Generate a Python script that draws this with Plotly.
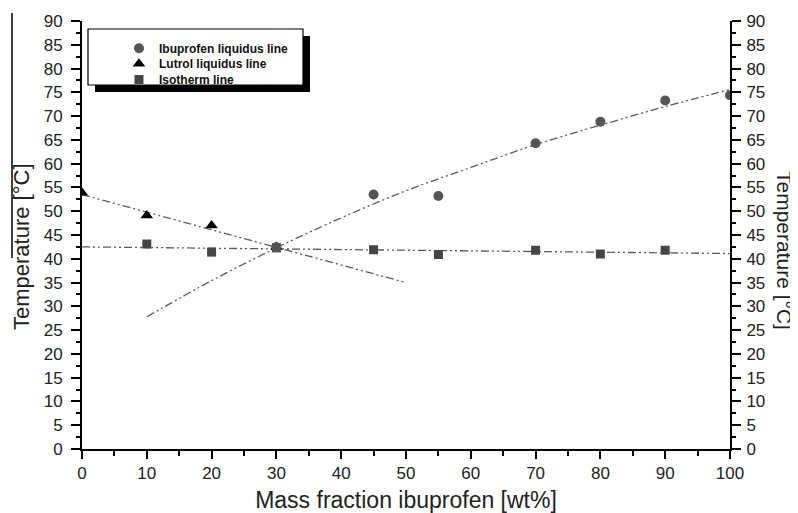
import plotly.graph_objects as go

# ---------------- data ----------------
ibu_x = [30, 45, 55, 70, 80, 90, 100]
ibu_y = [42.4, 53.5, 53.2, 64.3, 68.8, 73.3, 74.4]

lutrol_x = [0, 10, 20, 30]
lutrol_y = [53.9, 49.1, 47.0, 42.5]

iso_x = [10, 20, 30, 45, 55, 70, 80, 90]
iso_y = [43.1, 41.4, 42.3, 41.9, 40.9, 41.8, 41.0, 41.8]

# fitted trend lines
ibu_fit_x = [10, 20, 30, 40, 50, 60, 70, 80, 90, 100]
ibu_fit_y = [27.8, 35.4, 42.3, 48.6, 54.3, 59.2, 64.0, 68.1, 72.0, 75.6]
lutrol_fit_x = [0, 50]
lutrol_fit_y = [53.5, 35.0]
iso_fit_x = [0, 100]
iso_fit_y = [42.5, 41.1]

names = ["Ibuprofen liquidus line", "Lutrol liquidus line", "Isotherm line"]
x_title = "Mass fraction ibuprofen [wt%]"
y_title = "Temperature [°C]"

# ---------------- layout geometry (window pixels) ----------------
WIN_W, WIN_H = 798, 513
OFF = 8                      # page body margin
FW, FH = WIN_W - OFF, WIN_H - OFF
PL, PR, PT, PB = 82, 730, 21, 449   # plot area in window pixels


def px_x(px):
    return (px - PL) / (PR - PL)


def px_y(py):
    return (PB - py) / (PB - PT)


FONT = "Arial, Liberation Sans, sans-serif"
DASH = "8px,3px,2px,3px,2px,3px"
LINE_COL = "#5a5a5a"

fig = go.Figure()

# trend lines on the left temperature axis
for fx, fy, shape in [(ibu_fit_x, ibu_fit_y, "spline"),
                      (lutrol_fit_x, lutrol_fit_y, "linear"),
                      (iso_fit_x, iso_fit_y, "linear")]:
    fig.add_trace(go.Scatter(x=fx, y=fy, mode="lines", showlegend=False,
                             hoverinfo="skip", yaxis="y",
                             line=dict(color=LINE_COL, width=1.3, dash=DASH,
                                       shape=shape)))

# measured points on the (identical) right temperature axis, drawn on top
fig.add_trace(go.Scatter(x=iso_x, y=iso_y, mode="markers", yaxis="y2",
                         name="<b>" + names[2] + "</b>", legend="legend3",
                         marker=dict(symbol="square", size=9, color="#454545")))
fig.add_trace(go.Scatter(x=lutrol_x, y=lutrol_y, mode="markers", yaxis="y2",
                         name="<b>" + names[1] + "</b>", legend="legend2",
                         marker=dict(symbol="triangle-up", size=11, color="#000000")))
fig.add_trace(go.Scatter(x=ibu_x, y=ibu_y, mode="markers", yaxis="y2",
                         name="<b>" + names[0] + "</b>", legend="legend",
                         marker=dict(symbol="circle", size=10, color="#555555")))

axis_common = dict(showline=True, linecolor="black", linewidth=2,
                   showgrid=False, zeroline=False, ticks="outside",
                   tickcolor="black", tickwidth=2,
                   tickfont=dict(family=FONT, size=17, color="#222222"))


def legend_at(top_px):
    return dict(x=px_x(119), y=px_y(top_px), xanchor="left", yanchor="top",
                bgcolor="rgba(0,0,0,0)", borderwidth=0,
                font=dict(family=FONT, size=12, color="#111111"),
                itemclick=False, itemdoubleclick=False)


fig.update_layout(
    width=FW, height=FH,
    margin=dict(l=PL - OFF, r=WIN_W - PR, t=PT - OFF, b=WIN_H - PB,
                autoexpand=False),
    paper_bgcolor="white", plot_bgcolor="white",
    font=dict(family=FONT, color="#222222"),
    xaxis=dict(range=[0, 100], tickmode="linear", tick0=0, dtick=10,
               ticklen=8, ticklabelstandoff=0,
               minor=dict(ticks="outside", dtick=5, ticklen=5, tickwidth=2,
                          tickcolor="black"),
               title=dict(text=x_title, standoff=12,
                          font=dict(family=FONT, size=23, color="#222222")),
               **axis_common),
    yaxis=dict(range=[0, 90], tickmode="linear", tick0=0, dtick=5,
               ticklen=9, ticklabelstandoff=5,
               minor=dict(ticks="outside", dtick=2.5, ticklen=4, tickwidth=1.5,
                          tickcolor="black"),
               **axis_common),
    yaxis2=dict(range=[0, 90], overlaying="y", side="right", anchor="x",
                tickmode="linear", tick0=0, dtick=5,
                ticklen=9, ticklabelstandoff=2,
                minor=dict(ticks="outside", dtick=2.5, ticklen=4, tickwidth=1.5,
                           tickcolor="black"),
                **axis_common),
    legend=legend_at(33.7),
    legend2=legend_at(49.3),
    legend3=legend_at(65.0),
    showlegend=True,
)

# legend frame with drop shadow
fig.add_shape(type="rect", xref="paper", yref="paper",
              x0=px_x(95), x1=px_x(310), y0=px_y(92), y1=px_y(36),
              fillcolor="black", line=dict(width=0), layer="above")
fig.add_shape(type="rect", xref="paper", yref="paper",
              x0=px_x(88), x1=px_x(303), y0=px_y(85), y1=px_y(29),
              fillcolor="white", line=dict(color="black", width=1.2),
              layer="above")

# thin vertical rule at far left (as in the scanned original)
fig.add_shape(type="line", xref="paper", yref="paper",
              x0=px_x(12), x1=px_x(12), y0=px_y(258), y1=px_y(13),
              line=dict(color="black", width=1.5))

# y-axis titles (left and right)
fig.add_annotation(text=y_title, xref="paper", yref="paper",
                   x=px_x(21), y=px_y(247), textangle=-90, showarrow=False,
                   xanchor="center", yanchor="middle",
                   font=dict(family=FONT, size=22, color="#222222"))
fig.add_annotation(text=y_title, xref="paper", yref="paper",
                   x=px_x(785), y=px_y(250), textangle=90, showarrow=False,
                   xanchor="center", yanchor="middle",
                   font=dict(family=FONT, size=21, color="#222222"))

fig.write_html("out.html")
